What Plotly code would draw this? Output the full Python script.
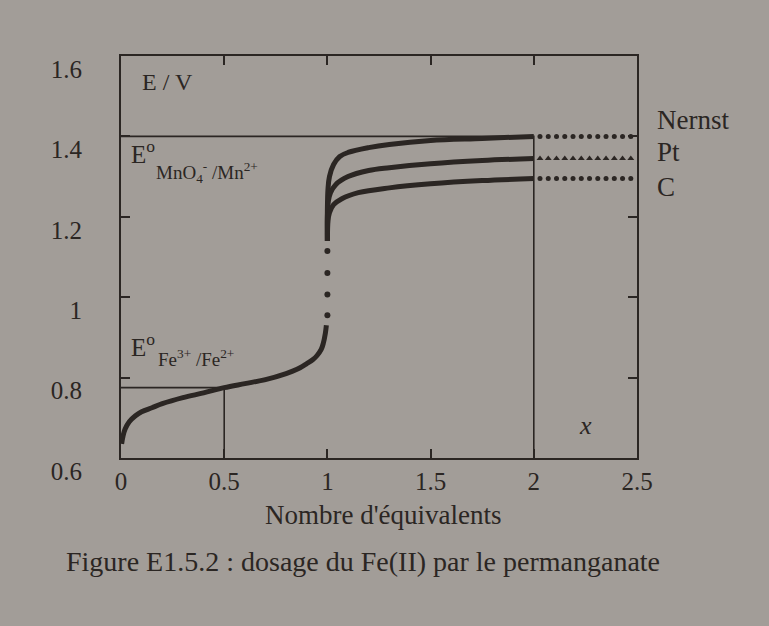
import plotly.graph_objects as go

# ---- data ----
fe_x = [0.003, 0.01, 0.02, 0.04, 0.07, 0.1, 0.15, 0.2, 0.3, 0.4, 0.5, 0.6, 0.7, 0.8, 0.85, 0.9, 0.93, 0.95, 0.97, 0.98, 0.99, 0.995]
fe_E = [0.635, 0.655, 0.672, 0.69, 0.705, 0.715, 0.725, 0.735, 0.75, 0.762, 0.775, 0.785, 0.795, 0.81, 0.82, 0.835, 0.845, 0.855, 0.87, 0.885, 0.91, 0.93]

jump_x = [1.0, 1.0, 1.0, 1.0]
jump_E = [0.955, 1.007, 1.06, 1.115]

nernst_x = [1.0, 1.0, 1.003, 1.01, 1.03, 1.06, 1.1, 1.2, 1.3, 1.5, 1.75, 2.0]
nernst_E = [1.14, 1.22, 1.27, 1.30, 1.33, 1.35, 1.36, 1.372, 1.38, 1.39, 1.395, 1.40]
pt_x = [1.0, 1.0, 1.005, 1.015, 1.04, 1.1, 1.2, 1.3, 1.5, 1.75, 2.0]
pt_E = [1.14, 1.20, 1.24, 1.26, 1.28, 1.30, 1.315, 1.322, 1.332, 1.34, 1.345]
c_x = [1.0, 1.003, 1.01, 1.03, 1.07, 1.15, 1.3, 1.5, 1.75, 2.0]
c_E = [1.14, 1.19, 1.21, 1.23, 1.245, 1.26, 1.272, 1.282, 1.29, 1.295]

ext_x = [2.03, 2.07, 2.11, 2.15, 2.19, 2.23, 2.27, 2.31, 2.35, 2.39, 2.43, 2.47]
ext_nernst = [1.40, 1.40, 1.40, 1.40, 1.40, 1.40, 1.40, 1.40, 1.40, 1.40, 1.40, 1.40]
ext_pt = [1.345, 1.345, 1.345, 1.345, 1.345, 1.345, 1.345, 1.345, 1.345, 1.345, 1.345, 1.345]
ext_c = [1.295, 1.295, 1.295, 1.295, 1.295, 1.295, 1.295, 1.295, 1.295, 1.295, 1.295, 1.295]

e0_mn = 1.40
e0_fe = 0.775
x_half = 0.5
x_end = 2.0

x_ticks = [0, 0.5, 1, 1.5, 2, 2.5]
x_ticktext = ["0", "0.5", "1", "1.5", "2", "2.5"]
y_ticks = [0.6, 0.8, 1.0, 1.2, 1.4, 1.6]
y_ticktext = ["0.6", "0.8", "1", "1.2", "1.4", "1.6"]

ink = "#2b2623"
bg = "#a29d98"
font = "Liberation Serif"

fig = go.Figure()

# reference lines
fig.add_trace(go.Scatter(x=[0, x_half, x_half], y=[e0_fe, e0_fe, 0.6], mode="lines",
                         line=dict(color=ink, width=1.6), hoverinfo="skip"))
fig.add_trace(go.Scatter(x=[0, x_end, x_end], y=[e0_mn, e0_mn, 0.6], mode="lines",
                         line=dict(color=ink, width=1.6), hoverinfo="skip"))

# titration curves
fig.add_trace(go.Scatter(x=fe_x, y=fe_E, mode="lines", line=dict(color=ink, width=5, shape="spline")))
fig.add_trace(go.Scatter(x=jump_x, y=jump_E, mode="markers", marker=dict(color=ink, size=6)))
for xs, ys in [(nernst_x, nernst_E), (pt_x, pt_E), (c_x, c_E)]:
    fig.add_trace(go.Scatter(x=xs, y=ys, mode="lines", line=dict(color=ink, width=5, shape="spline")))

# dotted extensions
fig.add_trace(go.Scatter(x=ext_x, y=ext_nernst, mode="markers", marker=dict(color=ink, size=5, symbol="circle")))
fig.add_trace(go.Scatter(x=ext_x, y=ext_pt, mode="markers", marker=dict(color=ink, size=6, symbol="triangle-up")))
fig.add_trace(go.Scatter(x=ext_x, y=ext_c, mode="markers", marker=dict(color=ink, size=5, symbol="circle")))

ann = []
def A(text, x, y, size, xref="x", yref="y", xanchor="left", yanchor="middle", italic=False):
    ann.append(dict(text=(f"<i>{text}</i>" if italic else text), x=x, y=y, xref=xref, yref=yref,
                    xanchor=xanchor, yanchor=yanchor, showarrow=False,
                    font=dict(family=font, size=size, color=ink)))

A("E / V", 0.09, 1.535, 24)
A("E<sup>o</sup>", 0.04, 1.36, 25)
A("MnO<sub>4</sub><sup>-</sup> /Mn<sup>2+</sup>", 0.16, 1.31, 19)
A("E<sup>o</sup>", 0.04, 0.88, 25)
A("Fe<sup>3+</sup> /Fe<sup>2+</sup>", 0.17, 0.85, 19)
A("x", 2.25, 0.68, 26, xanchor="center", italic=True)
A("Nernst", 1.035, 1.44, 27, xref="paper")
A("Pt", 1.035, 1.36, 27, xref="paper")
A("C", 1.035, 1.275, 27, xref="paper")
A("Nombre d'équivalents", 0.508, -0.143, 27, xref="paper", yref="paper", xanchor="center")
A("Figure E1.5.2 : dosage du Fe(II) par le permanganate", 0.469, -0.257, 28,
  xref="paper", yref="paper", xanchor="center")

axis_common = dict(showline=True, linecolor=ink, linewidth=1.8, mirror="ticks",
                   ticks="inside", ticklen=9, tickwidth=1.6, tickcolor=ink,
                   showgrid=False, zeroline=False,
                   tickfont=dict(family=font, size=25, color=ink))

fig.update_layout(
    width=769, height=626,
    margin=dict(l=121, r=132, t=56, b=168),
    paper_bgcolor=bg, plot_bgcolor=bg,
    showlegend=False,
    annotations=ann,
    xaxis=dict(range=[0, 2.5], tickvals=x_ticks, ticktext=x_ticktext,
               ticklabelstandoff=0, **axis_common),
    yaxis=dict(range=[0.6, 1.6], tickvals=y_ticks, ticktext=y_ticktext,
               ticklabelstandoff=32, ticklabelshift=13, **axis_common),
)

fig.write_html("out.html", config={"displayModeBar": False},
               post_script="document.body.style.margin='0';")
